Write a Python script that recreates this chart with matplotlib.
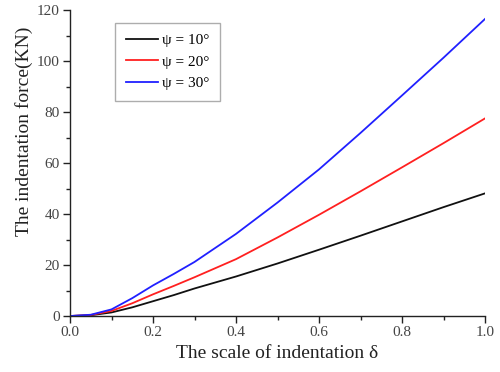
import matplotlib
matplotlib.use("Agg")
import matplotlib.pyplot as plt
from matplotlib.ticker import MultipleLocator, FormatStrFormatter

plt.rcParams['font.family'] = ['Liberation Serif', 'DejaVu Serif']

x = [0.0, 0.05, 0.1, 0.15, 0.2, 0.25, 0.3, 0.4, 0.5, 0.6, 0.7, 0.8, 0.9, 1.0]
f10 = [0.0, 0.3, 1.4, 3.4, 5.8, 8.2, 10.8, 15.5, 20.6, 26.0, 31.5, 37.1, 42.7, 48.1]
f20 = [0.0, 0.4, 2.0, 5.0, 8.5, 11.8, 15.2, 22.3, 30.8, 39.7, 48.9, 58.3, 67.8, 77.5]
f30 = [0.0, 0.5, 2.6, 7.0, 12.0, 16.5, 21.2, 32.2, 44.5, 57.5, 71.8, 86.5, 101.3, 116.5]
labels = ["ψ = 10°", "ψ = 20°", "ψ = 30°"]
colors = ["#111111", "#ff2020", "#2020ff"]

fig = plt.figure(figsize=(5.0, 3.72), dpi=100)
ax = fig.add_axes([0.14, 0.1505, 0.83, 0.8225])
for ys, lab, c in zip([f10, f20, f30], labels, colors):
    ax.plot(x, ys, color=c, lw=1.3, label=lab)

ax.set_xlim(0, 1.0)
ax.set_ylim(0, 120)
ax.xaxis.set_major_locator(MultipleLocator(0.2))
ax.xaxis.set_minor_locator(MultipleLocator(0.1))
ax.yaxis.set_major_locator(MultipleLocator(20))
ax.yaxis.set_minor_locator(MultipleLocator(10))
ax.xaxis.set_major_formatter(FormatStrFormatter('%.1f'))
for s in ['top', 'right']:
    ax.spines[s].set_visible(False)
for s in ['left', 'bottom']:
    ax.spines[s].set_linewidth(1.0)
    ax.spines[s].set_color('#222222')
ax.tick_params(which='major', direction='out', length=5, width=1, labelsize=11,
               colors='#222222', labelcolor='#444444', pad=2.5)
ax.tick_params(which='minor', direction='out', length=3, width=1, colors='#222222')
ax.set_xlabel("The scale of indentation δ", fontsize=14, color='#222222', labelpad=4)
ax.set_ylabel("The indentation force(KN)", fontsize=14, color='#222222')
ax.yaxis.set_label_coords(-0.09, 0.605)

leg = ax.legend(loc='upper left', bbox_to_anchor=(0.108, 0.958), borderaxespad=0,
                fontsize=11, frameon=True, fancybox=False, edgecolor='#999999',
                handlelength=2.1, borderpad=0.7, labelspacing=0.5, handletextpad=0.3)
leg.get_frame().set_linewidth(1.0)

fig.savefig("out.png", dpi=100)
